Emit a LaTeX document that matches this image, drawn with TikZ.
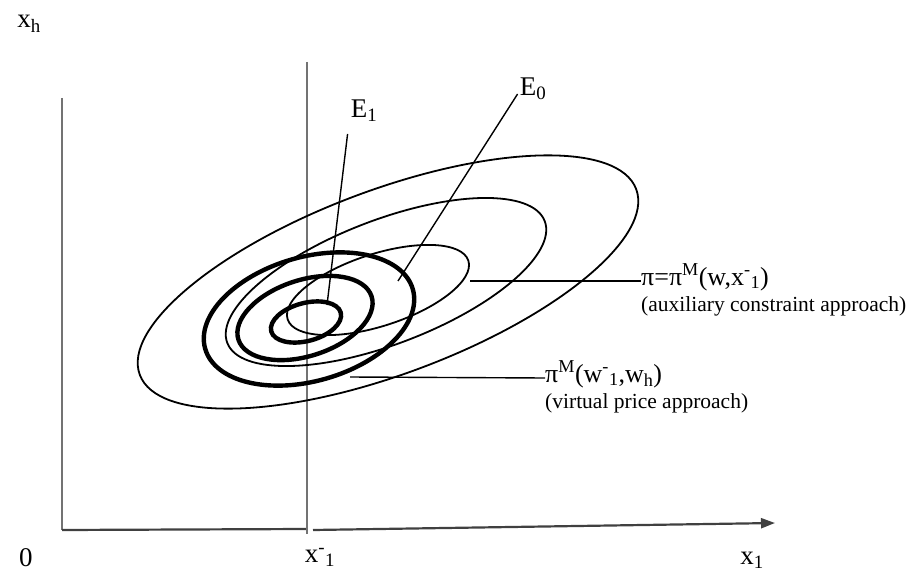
\documentclass[tikz,border=0pt]{standalone}
\usepackage{fontspec}
\setmainfont{Liberation Serif}
\usetikzlibrary{arrows.meta}

\begin{document}
\begin{tikzpicture}[
    x=1pt, y=-1pt,
    axis/.style={draw=black!75, line width=2.2pt},
    guide/.style={draw=black!55, line width=1.8pt},
    thin curve/.style={line width=1.8pt},
    thick curve/.style={line width=4.4pt},
    leader/.style={line width=1.4pt},
    lbl/.style={inner sep=0pt, font=\fontsize{27}{30}\selectfont},
    note/.style={inner sep=0pt, font=\fontsize{21.5}{25}\selectfont},
    formula/.style={inner sep=0pt, font=\fontsize{26}{29}\selectfont}
  ]

  \useasboundingbox (0,0) rectangle (915,583);

  % axes
  \draw[guide] (62,98) -- (62,530);
  \draw[axis] (62,530) -- (306,529);
  \draw[axis, -{Triangle[length=14pt, width=10pt]}] (313,530) -- (775,523);
  \draw[guide] (307,62) -- (307,534);

  \node[lbl] (xh) at (29,24) {x\textsubscript{h}};
  \node[lbl] (origin) at (26,558) {0};
  \node[lbl] (xbar) at (320,557) {x\textsuperscript{-}\textsubscript{1}};
  \node[lbl] (xone) at (752,560) {x\textsubscript{1}};

  % auxiliary constraint contours
  \draw[thin curve, rotate around={20.5:(388,282)}] (388,282) ellipse [x radius=265, y radius=92];
  \draw[thin curve, rotate around={21:(386,282)}] (386,282) ellipse [x radius=170, y radius=62];
  \draw[thin curve, rotate around={18:(378,290)}] (378,290) ellipse [x radius=95, y radius=36];

  % virtual price contours
  \draw[thick curve, rotate around={16:(309,319)}] (309,319) ellipse [x radius=108, y radius=62];
  \draw[thick curve, rotate around={18:(305,318)}] (305,318) ellipse [x radius=70, y radius=38];
  \draw[thick curve, rotate around={15:(306,322)}] (306,322) ellipse [x radius=36, y radius=19];

  % equilibria
  \node[lbl] (E1) at (364,111) {E\textsubscript{1}};
  \node[lbl] (E0) at (533,89) {E\textsubscript{0}};
  \coordinate (e1pt) at (327,305);
  \coordinate (e0pt) at (398,281);
  \draw[leader] ([xshift=-3pt,yshift=-12pt]E1.south west) -- (e1pt);
  \draw[leader] ([xshift=-2pt,yshift=-5pt]E0.west) -- (e0pt);

  % approaches
  \node[formula, anchor=base west] (piaux) at (641,285)
    {π=π\textsuperscript{M}(w,x\textsuperscript{-}\textsubscript{1})};
  \node[note, anchor=west] (auxnote) at (641,306) {(auxiliary constraint approach)};
  \coordinate (auxfoot) at (470,281);
  \draw[leader] (auxfoot) -- ([yshift=4pt]piaux.base west);

  \node[formula, anchor=base west] (pivirt) at (545,382)
    {π\textsuperscript{M}(w\textsuperscript{-}\textsubscript{1},w\textsubscript{h})};
  \node[note, anchor=west] (virtnote) at (545,403) {(virtual price approach)};
  \coordinate (virtfoot) at (350,377);
  \draw[leader] (virtfoot) -- ([yshift=4pt]pivirt.base west);

\end{tikzpicture}
\end{document}
